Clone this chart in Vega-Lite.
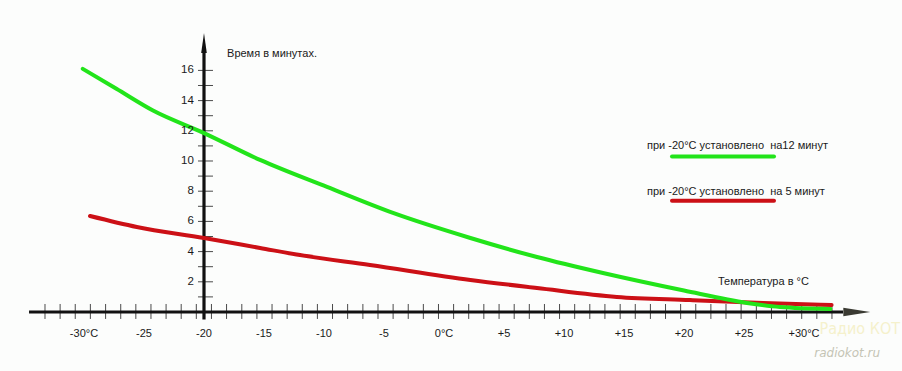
{
  "$schema": "https://vega.github.io/schema/vega-lite/v6.json",
  "width": 902,
  "height": 371,
  "padding": 0,
  "autosize": {"type": "fit", "contains": "padding"},
  "background": "#fcfdfc",
  "config": {"view": {"stroke": null}, "text": {"font": "Liberation Sans", "fontSize": 11, "color": "#1a1a1a"}},
  "datasets": {
    "curves": [
      {"series": "на12 минут", "x": -30.1, "y": 16.1},
      {"series": "на12 минут", "x": -27.3, "y": 14.78},
      {"series": "на12 минут", "x": -24.25, "y": 13.34},
      {"series": "на12 минут", "x": -20, "y": 11.85},
      {"series": "на12 минут", "x": -15.33, "y": 10.07},
      {"series": "на12 минут", "x": -9.75, "y": 8.28},
      {"series": "на12 минут", "x": -4.25, "y": 6.56},
      {"series": "на12 минут", "x": 2.2, "y": 4.9},
      {"series": "на12 минут", "x": 7.75, "y": 3.64},
      {"series": "на12 минут", "x": 13.25, "y": 2.58},
      {"series": "на12 минут", "x": 20, "y": 1.42},
      {"series": "на12 минут", "x": 25.25, "y": 0.6},
      {"series": "на12 минут", "x": 28, "y": 0.33},
      {"series": "на12 минут", "x": 32.2, "y": 0.2},
      {"series": "на 5 минут", "x": -29.5, "y": 6.36},
      {"series": "на 5 минут", "x": -25.6, "y": 5.63},
      {"series": "на 5 минут", "x": -20, "y": 4.9},
      {"series": "на 5 минут", "x": -15.33, "y": 4.24},
      {"series": "на 5 минут", "x": -12, "y": 3.77},
      {"series": "на 5 минут", "x": -6.17, "y": 3.11},
      {"series": "на 5 минут", "x": 2.2, "y": 2.12},
      {"series": "на 5 минут", "x": 7.75, "y": 1.59},
      {"series": "на 5 минут", "x": 14.4, "y": 1.0},
      {"series": "на 5 минут", "x": 20.5, "y": 0.79},
      {"series": "на 5 минут", "x": 26.6, "y": 0.6},
      {"series": "на 5 минут", "x": 32.3, "y": 0.46}
    ],
    "axes": [
      {"x": -34.58, "y": 0, "x2": 33.25, "y2": 0},
      {"x": -20, "y": -0.5, "x2": -20, "y2": 17.2}
    ],
    "xticks": [
      {"x": -33.25}, {"x": -31.99}, {"x": -30.73}, {"x": -29.47}, {"x": -28.2}, {"x": -26.94},
      {"x": -25.68}, {"x": -24.42}, {"x": -23.16}, {"x": -21.9}, {"x": -20.64}, {"x": -19.38},
      {"x": -18.12}, {"x": -16.85}, {"x": -15.59}, {"x": -14.33}, {"x": -13.07}, {"x": -11.81},
      {"x": -10.55}, {"x": -9.29}, {"x": -8.03}, {"x": -6.76}, {"x": -5.5}, {"x": -4.24},
      {"x": -2.98}, {"x": -1.72}, {"x": -0.46}, {"x": 0.8}, {"x": 2.06}, {"x": 3.32},
      {"x": 4.59}, {"x": 5.85}, {"x": 7.11}, {"x": 8.37}, {"x": 9.63}, {"x": 10.89},
      {"x": 12.15}, {"x": 13.41}, {"x": 14.68}, {"x": 15.94}, {"x": 17.2}, {"x": 18.46},
      {"x": 19.72}, {"x": 20.98}, {"x": 22.24}, {"x": 23.5}, {"x": 24.76}, {"x": 26.03},
      {"x": 27.29}, {"x": 28.55}, {"x": 29.81}, {"x": 31.07}, {"x": 32.33}
    ],
    "yticks": [
      {"y": 1}, {"y": 2}, {"y": 3}, {"y": 4}, {"y": 5}, {"y": 6}, {"y": 7}, {"y": 8},
      {"y": 9}, {"y": 10}, {"y": 11}, {"y": 12}, {"y": 13}, {"y": 14}, {"y": 15}, {"y": 16}
    ],
    "xlabels": [
      {"x": -30, "label": "-30°C"}, {"x": -25, "label": "-25"}, {"x": -20, "label": "-20"},
      {"x": -15, "label": "-15"}, {"x": -10, "label": "-10"}, {"x": -5, "label": "-5"},
      {"x": 0, "label": "0°C"}, {"x": 5, "label": "+5"}, {"x": 10, "label": "+10"},
      {"x": 15, "label": "+15"}, {"x": 20, "label": "+20"}, {"x": 25, "label": "+25"},
      {"x": 30, "label": "+30°C"}
    ],
    "ylabels": [
      {"y": 2, "label": "2"}, {"y": 4, "label": "4"}, {"y": 6, "label": "6"}, {"y": 8, "label": "8"},
      {"y": 10, "label": "10"}, {"y": 12, "label": "12"}, {"y": 14, "label": "14"}, {"y": 16, "label": "16"}
    ],
    "notes": [
      {"x": -18.08, "y": 17.09, "label": "Время в минутах."},
      {"x": 22.83, "y": 1.99, "label": "Температура в °C"},
      {"x": 16.92, "y": 11.0, "label": "при -20°C установлено \u00a0на12 минут"},
      {"x": 16.92, "y": 7.97, "label": "при -20°C установлено \u00a0на 5 минут"}
    ],
    "swatches": [
      {"series": "на12 минут", "x": 19.0, "x2": 27.5, "y": 10.29},
      {"series": "на 5 минут", "x": 19.0, "x2": 27.5, "y": 7.37}
    ],
    "arrows": [
      {"dir": "up", "x": -20, "y": 17.81},
      {"dir": "right", "x": 34.4, "y": 0}
    ],
    "watermark": [
      {"x": 34.65, "y": -1.1, "label": "Радио КОТ", "kind": "big"},
      {"x": 33.6, "y": -2.72, "label": "radiokot.ru", "kind": "small"}
    ]
  },
  "layer": [
    {
      "data": {"name": "watermark"},
      "transform": [{"filter": {"field": "kind", "equal": "big"}}],
      "mark": {"type": "text", "font": "DejaVu Sans Condensed", "fontSize": 16, "color": "#f5f1cc", "align": "center", "baseline": "middle"},
      "encoding": {
        "x": {"field": "x", "type": "quantitative", "scale": {"domain": [-37, 38.167], "nice": false, "zero": false}, "axis": null},
        "y": {"field": "y", "type": "quantitative", "scale": {"domain": [-3.907, 20.662], "nice": false, "zero": false}, "axis": null},
        "text": {"field": "label"}
      }
    },
    {
      "data": {"name": "watermark"},
      "transform": [{"filter": {"field": "kind", "equal": "small"}}],
      "mark": {"type": "text", "font": "DejaVu Sans", "fontStyle": "italic", "fontSize": 12, "color": "#c4c4b4", "align": "center", "baseline": "middle"},
      "encoding": {
        "x": {"field": "x", "type": "quantitative", "axis": null},
        "y": {"field": "y", "type": "quantitative", "axis": null},
        "text": {"field": "label"}
      }
    },
    {
      "data": {"name": "xticks"},
      "mark": {"type": "rule", "color": "#4a4a4a", "strokeWidth": 1},
      "encoding": {
        "x": {"field": "x", "type": "quantitative", "axis": null},
        "y": {"datum": -0.46, "type": "quantitative", "axis": null},
        "y2": {"datum": 0.53}
      }
    },
    {
      "data": {"name": "yticks"},
      "mark": {"type": "rule", "color": "#4a4a4a", "strokeWidth": 1},
      "encoding": {
        "y": {"field": "y", "type": "quantitative", "axis": null},
        "x": {"datum": -20.5, "type": "quantitative", "axis": null},
        "x2": {"datum": -19.25}
      }
    },
    {
      "data": {"name": "axes"},
      "mark": {"type": "rule", "color": "#111111", "strokeWidth": 3.2},
      "encoding": {
        "x": {"field": "x", "type": "quantitative", "axis": null},
        "y": {"field": "y", "type": "quantitative", "axis": null},
        "x2": {"field": "x2"},
        "y2": {"field": "y2"}
      }
    },
    {
      "data": {"name": "arrows"},
      "transform": [{"filter": {"field": "dir", "equal": "up"}}],
      "mark": {"type": "point", "filled": true, "color": "#111111", "opacity": 1, "size": 400, "shape": "M0,-1L0.28,1L-0.28,1Z"},
      "encoding": {
        "x": {"field": "x", "type": "quantitative", "axis": null},
        "y": {"field": "y", "type": "quantitative", "axis": null}
      }
    },
    {
      "data": {"name": "arrows"},
      "transform": [{"filter": {"field": "dir", "equal": "right"}}],
      "mark": {"type": "point", "filled": true, "color": "#3a3a32", "opacity": 1, "size": 729, "shape": "M1,0L-1,-0.32L-1,0.32Z"},
      "encoding": {
        "x": {"field": "x", "type": "quantitative", "axis": null},
        "y": {"field": "y", "type": "quantitative", "axis": null}
      }
    },
    {
      "data": {"name": "curves"},
      "transform": [{"filter": {"field": "series", "equal": "на 5 минут"}}],
      "mark": {"type": "line", "color": "#cc1016", "strokeWidth": 4, "interpolate": "monotone", "strokeCap": "round"},
      "encoding": {
        "x": {"field": "x", "type": "quantitative", "axis": null},
        "y": {"field": "y", "type": "quantitative", "axis": null}
      }
    },
    {
      "data": {"name": "curves"},
      "transform": [{"filter": {"field": "series", "equal": "на12 минут"}}],
      "mark": {"type": "line", "color": "#22e41a", "strokeWidth": 4, "interpolate": "monotone", "strokeCap": "round"},
      "encoding": {
        "x": {"field": "x", "type": "quantitative", "axis": null},
        "y": {"field": "y", "type": "quantitative", "axis": null}
      }
    },
    {
      "data": {"name": "swatches"},
      "mark": {"type": "rule", "strokeWidth": 4, "strokeCap": "round"},
      "encoding": {
        "x": {"field": "x", "type": "quantitative", "axis": null},
        "y": {"field": "y", "type": "quantitative", "axis": null},
        "x2": {"field": "x2"},
        "color": {"field": "series", "type": "nominal", "scale": {"domain": ["на12 минут", "на 5 минут"], "range": ["#22e41a", "#cc1016"]}, "legend": null}
      }
    },
    {
      "data": {"name": "xlabels"},
      "mark": {"type": "text", "align": "center", "baseline": "middle"},
      "encoding": {
        "x": {"field": "x", "type": "quantitative", "axis": null},
        "y": {"datum": -1.46, "type": "quantitative", "axis": null},
        "text": {"field": "label"}
      }
    },
    {
      "data": {"name": "ylabels"},
      "mark": {"type": "text", "align": "right", "baseline": "middle", "fontSize": 11.5},
      "encoding": {
        "y": {"field": "y", "type": "quantitative", "axis": null},
        "x": {"datum": -20.85, "type": "quantitative", "axis": null},
        "text": {"field": "label"}
      }
    },
    {
      "data": {"name": "notes"},
      "mark": {"type": "text", "align": "left", "baseline": "middle"},
      "encoding": {
        "x": {"field": "x", "type": "quantitative", "axis": null},
        "y": {"field": "y", "type": "quantitative", "axis": null},
        "text": {"field": "label"}
      }
    }
  ]
}
